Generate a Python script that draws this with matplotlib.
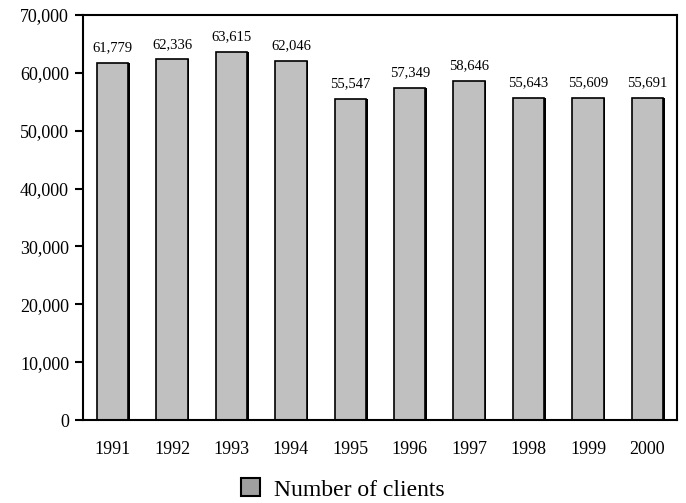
import matplotlib.pyplot as plt
import numpy as np

plt.rcParams['font.family'] = ['Liberation Serif', 'DejaVu Serif']

years = ['1991', '1992', '1993', '1994', '1995', '1996', '1997', '1998', '1999', '2000']
clients = [61779, 62336, 63615, 62046, 55547, 57349, 58646, 55643, 55609, 55691]

fig = plt.figure(figsize=(6.86, 5.03), dpi=100)
ax = fig.add_axes([0.121, 0.165, 0.866, 0.805])

x = np.arange(len(years))
# shadow on right edge
ax.bar(x + 0.025, clients, width=0.53, color='black', zorder=1)
ax.bar(x, clients, width=0.53, color='#c0c0c0', edgecolor='black', linewidth=1.2,
       zorder=2, label='Number of clients')

for xi, v in zip(x, clients):
    ax.text(xi, v + 1500, '{:,}'.format(v), ha='center', va='bottom', fontsize=10.5)

ax.set_xlim(-0.5, 9.5)
ax.set_ylim(0, 70000)
ax.set_yticks(np.arange(0, 70001, 10000))
ax.set_yticklabels(['{:,}'.format(v) for v in range(0, 70001, 10000)], fontsize=13)
ax.set_xticks(x)
ax.set_xticklabels(years, fontsize=13)
ax.tick_params(axis='x', length=0, pad=15)
ax.tick_params(axis='y', length=6, width=1.5, direction='out', pad=4)
for s in ax.spines.values():
    s.set_linewidth(1.5)

handle = plt.Rectangle((0, 0), 1, 1, facecolor='#a0a0a0', edgecolor='black', linewidth=1.5)
fig.legend([handle], ['Number of clients'], loc='center', bbox_to_anchor=(0.5, 0.027),
           frameon=False, fontsize=17, handlelength=0.8, handleheight=0.8, handletextpad=0.6,
           borderpad=0)

fig.savefig('out.png', dpi=100)
